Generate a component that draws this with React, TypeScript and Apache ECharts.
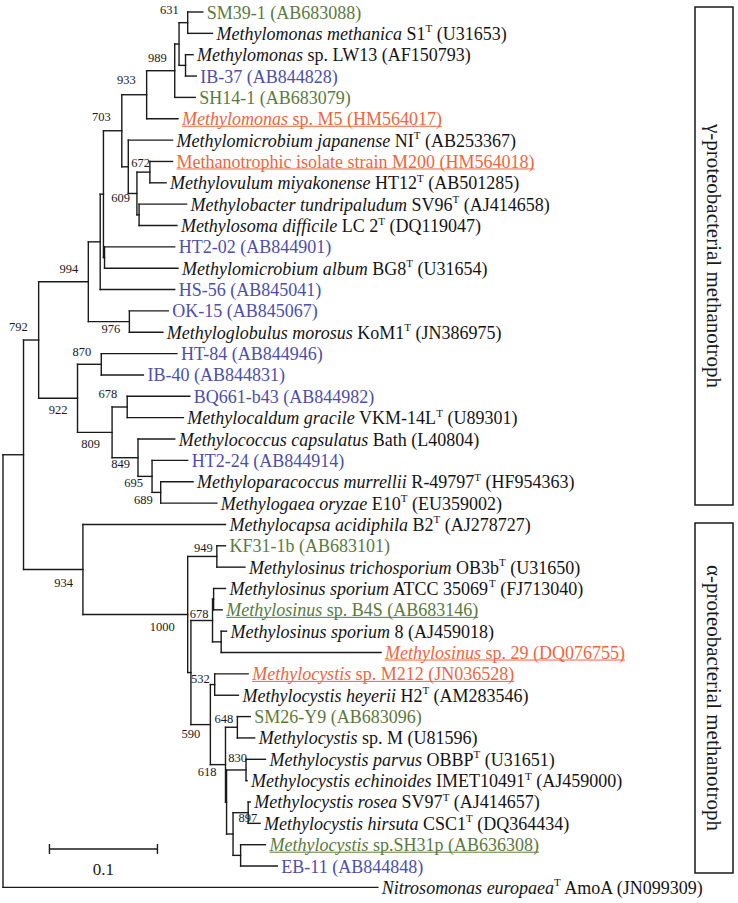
import React, { useEffect, useRef } from "react";
import * as echarts from "echarts";

// ---------- DATA ----------
// Leaf labels (top to bottom). *...* = italic, ^X = superscript
const leafLabels: string[] = [
  "SM39-1 (AB683088)",
  "*Methylomonas methanica* S1^T (U31653)",
  "*Methylomonas* sp. LW13 (AF150793)",
  "IB-37 (AB844828)",
  "SH14-1 (AB683079)",
  "*Methylomonas* sp. M5 (HM564017)",
  "*Methylomicrobium japanense* NI^T (AB253367)",
  "Methanotrophic isolate strain M200 (HM564018)",
  "*Methylovulum miyakonense* HT12^T (AB501285)",
  "*Methylobacter tundripaludum* SV96^T (AJ414658)",
  "*Methylosoma difficile* LC 2^T (DQ119047)",
  "HT2-02 (AB844901)",
  "*Methylomicrobium album* BG8^T (U31654)",
  "HS-56 (AB845041)",
  "OK-15 (AB845067)",
  "*Methyloglobulus morosus* KoM1^T (JN386975)",
  "HT-84 (AB844946)",
  "IB-40 (AB844831)",
  "BQ661-b43 (AB844982)",
  "*Methylocaldum gracile* VKM-14L^T (U89301)",
  "*Methylococcus capsulatus* Bath (L40804)",
  "HT2-24 (AB844914)",
  "*Methyloparacoccus murrellii* R-49797^T (HF954363)",
  "*Methylogaea oryzae* E10^T (EU359002)",
  "*Methylocapsa acidiphila* B2^T (AJ278727)",
  "KF31-1b (AB683101)",
  "*Methylosinus trichosporium* OB3b^T (U31650)",
  "*Methylosinus sporium* ATCC 35069^T (FJ713040)",
  "*Methylosinus* sp. B4S (AB683146)",
  "*Methylosinus sporium* 8 (AJ459018)",
  "*Methylosinus* sp. 29 (DQ076755)",
  "*Methylocystis* sp. M212 (JN036528)",
  "*Methylocystis heyerii* H2^T (AM283546)",
  "SM26-Y9 (AB683096)",
  "*Methylocystis* sp. M (U81596)",
  "*Methylocystis parvus* OBBP^T (U31651)",
  "*Methylocystis echinoides* IMET10491^T (AJ459000)",
  "*Methylocystis rosea* SV97^T (AJ414657)",
  "*Methylocystis hirsuta* CSC1^T (DQ364434)",
  "*Methylocystis* sp.SH31p (AB636308)",
  "EB-11 (AB844848)",
  "*Nitrosomonas europaea*^T AmoA (JN099309)",
];

// Source group of each leaf: ref = reference strain, soil = soil isolates, clone = clones, isolate = isolates
const leafGroup: string[] = [
  "soil", "ref", "ref", "clone", "soil", "isolate", "ref", "isolate", "ref", "ref",
  "ref", "clone", "ref", "clone", "clone", "ref", "clone", "clone", "clone", "ref",
  "ref", "clone", "ref", "ref", "ref", "soil", "ref", "ref", "soil", "ref",
  "isolate", "isolate", "ref", "soil", "ref", "ref", "ref", "ref", "ref", "soil",
  "clone", "ref",
];

// Highlighted (underlined) leaves
const leafHighlighted: number[] = [5, 7, 28, 30, 31, 39];

// Distance from root to each tip (substitutions per site)
const leafDist: number[] = [
  0.185, 0.194, 0.176, 0.179, 0.178, 0.162, 0.157, 0.157, 0.151, 0.170,
  0.161, 0.159, 0.162, 0.159, 0.153, 0.148, 0.161, 0.130, 0.173, 0.167,
  0.159, 0.171, 0.176, 0.198, 0.206, 0.206, 0.224, 0.206, 0.203, 0.207,
  0.350, 0.227, 0.218, 0.229, 0.233, 0.243, 0.226, 0.229, 0.238, 0.243,
  0.254, 0.347,
];

// Internal nodes (children listed before parents)
const nodeIds: string[] = [
  "a", "b", "ab", "n989", "n933", "n672", "td", "n609", "j", "n703",
  "ha", "p2", "p1", "n976", "n994", "n870", "n678g", "n689", "n695", "n849",
  "n809", "n922", "n792", "n949", "as", "s8", "n678a", "n532", "n648", "n830",
  "n897", "se", "r", "u", "n618", "n590", "q", "n1000", "n934", "gam",
  "root",
];
const nodeDist: number[] = [
  0.171, 0.169, 0.163, 0.159, 0.133, 0.136, 0.126, 0.124, 0.116, 0.110,
  0.094, 0.093, 0.090, 0.117, 0.079, 0.091, 0.115, 0.146, 0.138, 0.125,
  0.101, 0.069, 0.033, 0.198, 0.195, 0.202, 0.194, 0.196, 0.217, 0.225,
  0.227, 0.220, 0.213, 0.207, 0.206, 0.192, 0.174, 0.171, 0.074, 0.019,
  0.000,
];
const nodeChildren: string[][] = [
  ["L0", "L1"], ["L2", "L3"], ["a", "b"], ["ab", "L4"], ["n989", "L5"],
  ["L7", "L8"], ["L9", "L10"], ["n672", "td"], ["L6", "n609"], ["n933", "j"],
  ["L11", "L12"], ["n703", "ha"], ["p2", "L13"], ["L14", "L15"], ["p1", "n976"],
  ["L16", "L17"], ["L18", "L19"], ["L22", "L23"], ["L21", "n689"], ["L20", "n695"],
  ["n678g", "n849"], ["n870", "n809"], ["n994", "n922"], ["L25", "L26"], ["L27", "L28"],
  ["L29", "L30"], ["as", "s8"], ["L31", "L32"], ["L33", "L34"], ["L35", "L36"],
  ["L37", "L38"], ["L39", "L40"], ["n897", "se"], ["n830", "r"], ["n648", "u"],
  ["n532", "n618"], ["n678a", "n590"], ["n949", "q"], ["L24", "n1000"], ["n792", "n934"],
  ["gam", "L41"],
];
// Bootstrap support (of 1000 replicates)
const nodeSupport: (number | null)[] = [
  631, null, null, 989, 933, 672, null, 609, null, 703,
  null, null, null, 976, 994, 870, 678, 689, 695, 849,
  809, 922, 792, 949, null, null, 678, 532, 648, 830,
  897, null, null, null, 618, 590, null, 1000, 934, null,
  null,
];

const scaleBarStart = 0.043;
const scaleBarLength = 0.1;
const scaleBarRow = 39.2;
const scaleBarLabel = "0.1";

const cladeLabels = ["γ-proteobacterial methanotroph", "α-proteobacterial methanotroph"];

// ---------- LAYOUT / STYLE ----------
const W = 738;
const H = 903;
const FONT = '"Liberation Serif", "Times New Roman", serif';
const INK = "#1a1a1a";
const groupColor: Record<string, string> = {
  ref: "#141414",
  soil: "#5a7a3c",
  clone: "#4b4fa8",
  isolate: "#ec6640",
};
// label placement relative to node: [dx to right edge, dy from node centre] in px
const supportOffset: Record<string, [number, number]> = {
  a: [-9, -13], n989: [-8, -13], n933: [-11, -15], n703: [-11, -14], n672: [0, -9],
  n609: [-7, 5], n994: [-10, -13], n976: [-9, 7], n792: [-11, -13], n870: [-10, -12],
  n922: [-10, 12], n678g: [-10, -13], n809: [-12, 12], n849: [-8, 6], n695: [-9, 7],
  n689: [-8, 8], n934: [-10, 14], n949: [-4, -8], n1000: [-13, 12], n678a: [-4, -7],
  n532: [-5, -6], n590: [-10, 9], n648: [-4, -8], n618: [-9, 7], n830: [1, -12],
  n897: [9, 5],
};

// ---------- TREE GEOMETRY (from data) ----------
type P = { x: number; y: number };
const pos: Record<string, P> = {};
leafDist.forEach((d, i) => {
  pos["L" + i] = { x: d, y: i };
});
nodeIds.forEach((id, k) => {
  const ys = nodeChildren[k].map((c) => pos[c].y);
  pos[id] = { x: nodeDist[k], y: (Math.min(...ys) + Math.max(...ys)) / 2 };
});
const supportedIds = nodeIds.filter((_, k) => nodeSupport[k] !== null);

type Seg = { t: string; k: "i" | "n" | "s" };
function parseLabel(s: string): Seg[] {
  const segs: Seg[] = [];
  let italic = false;
  let cur = "";
  const flush = () => {
    if (cur) segs.push({ t: cur, k: italic ? "i" : "n" });
    cur = "";
  };
  for (let i = 0; i < s.length; i++) {
    const ch = s[i];
    if (ch === "*") {
      flush();
      italic = !italic;
    } else if (ch === "^") {
      flush();
      segs.push({ t: s[i + 1], k: "s" });
      i++;
    } else cur += ch;
  }
  flush();
  return segs;
}

const LEAF_SIZE = 18;
const SUP_SIZE = 11;
let measureCtx: CanvasRenderingContext2D | null = null;
function measure(seg: Seg): number {
  if (!measureCtx) measureCtx = document.createElement("canvas").getContext("2d");
  if (!measureCtx) return seg.t.length * 8;
  measureCtx.font =
    seg.k === "i" ? `italic ${LEAF_SIZE}px ${FONT}` : seg.k === "s" ? `${SUP_SIZE}px ${FONT}` : `${LEAF_SIZE}px ${FONT}`;
  return measureCtx.measureText(seg.t).width;
}

function plainText(text: string, x: number, y: number, size: number, align: string, rotation = 0): any {
  return {
    type: "text",
    x,
    y,
    rotation,
    style: {
      text,
      fill: INK,
      fontFamily: FONT,
      fontSize: size,
      align,
      textAlign: align,
      verticalAlign: "middle",
      textVerticalAlign: "middle",
    },
  };
}

export default function App() {
  const ref = useRef<HTMLDivElement>(null);
  useEffect(() => {
    document.body.style.margin = "0";
    if (!ref.current) return;
    const chart = echarts.init(ref.current, null, { renderer: "svg" });
    const lineStyle = { stroke: INK, lineWidth: 1.4, lineCap: "square" as const };

    const option: any = {
      animation: false,
      backgroundColor: "#ffffff",
      grid: { left: 3, right: 1, top: 12, bottom: 15.6 },
      xAxis: { type: "value", min: 0, max: 0.6796, show: false },
      yAxis: { type: "value", min: 0, max: 41, inverse: true, show: false },
      series: [
        {
          type: "custom",
          name: "branches",
          data: nodeIds.map((id) => [pos[id].x, pos[id].y]),
          renderItem: (params: any, api: any) => {
            const k = params.dataIndex;
            const nx = api.coord([nodeDist[k], 0])[0];
            const kids = nodeChildren[k].map((c) => api.coord([pos[c].x, pos[c].y]));
            const ys = kids.map((c: number[]) => c[1]);
            const children: any[] = [
              {
                type: "line",
                shape: { x1: nx, y1: Math.min(...ys), x2: nx, y2: Math.max(...ys) },
                style: lineStyle,
              },
            ];
            kids.forEach((c: number[]) => {
              children.push({ type: "line", shape: { x1: nx, y1: c[1], x2: c[0], y2: c[1] }, style: lineStyle });
            });
            return { type: "group", children };
          },
        },
        {
          type: "custom",
          name: "support",
          data: supportedIds.map((id) => [pos[id].x, pos[id].y]),
          renderItem: (params: any, api: any) => {
            const id = supportedIds[params.dataIndex];
            const k = nodeIds.indexOf(id);
            const [px, py] = api.coord([pos[id].x, pos[id].y]);
            const off = supportOffset[id] || [-8, -10];
            return plainText(String(nodeSupport[k]), px + off[0], py + off[1], 12.5, "right");
          },
        },
        {
          type: "custom",
          name: "leaves",
          data: leafDist.map((d, i) => [d, i]),
          renderItem: (params: any, api: any) => {
            const i = params.dataIndex;
            const [px, py] = api.coord([leafDist[i], i]);
            const segs = parseLabel(leafLabels[i]);
            const color = groupColor[leafGroup[i]];
            const text = segs.map((s) => `{${s.k}|${s.t}}`).join("");
            const x0 = px + 4;
            const children: any[] = [
              {
                type: "text",
                x: x0,
                y: py + 0.5,
                style: {
                  text,
                  fill: color,
                  fontFamily: FONT,
                  fontSize: LEAF_SIZE,
                  align: "left",
                  textAlign: "left",
                  verticalAlign: "middle",
                  textVerticalAlign: "middle",
                  rich: {
                    i: { fontStyle: "italic", fontSize: LEAF_SIZE, fontFamily: FONT, fill: color, lineHeight: 22 },
                    n: { fontStyle: "normal", fontSize: LEAF_SIZE, fontFamily: FONT, fill: color, lineHeight: 22 },
                    s: { fontSize: SUP_SIZE, fontFamily: FONT, fill: color, verticalAlign: "top", lineHeight: 13 },
                  },
                },
              },
            ];
            if (leafHighlighted.indexOf(i) >= 0) {
              const w = segs.reduce((a, s) => a + measure(s), 0);
              children.push({
                type: "line",
                shape: { x1: x0, y1: py + 7.5, x2: x0 + w, y2: py + 7.5 },
                style: { stroke: color, lineWidth: 1 },
              });
            }
            return { type: "group", children };
          },
        },
        {
          type: "custom",
          name: "scale",
          data: [[scaleBarStart, scaleBarRow]],
          renderItem: (params: any, api: any) => {
            const [x1, y] = api.coord([scaleBarStart, scaleBarRow]);
            const [x2] = api.coord([scaleBarStart + scaleBarLength, scaleBarRow]);
            const st = { stroke: INK, lineWidth: 1.4 };
            return {
              type: "group",
              children: [
                { type: "line", shape: { x1, y1: y, x2, y2: y }, style: st },
                { type: "line", shape: { x1, y1: y - 5, x2: x1, y2: y + 5 }, style: st },
                { type: "line", shape: { x1: x2, y1: y - 5, x2, y2: y + 5 }, style: st },
                plainText(scaleBarLabel, (x1 + x2) / 2, y + 21, 17, "center"),
              ],
            };
          },
        },
      ],
      graphic: [
        { type: "rect", shape: { x: 695, y: 7, width: 38, height: 498 }, style: { fill: "none", stroke: INK, lineWidth: 1.5 } },
        { type: "rect", shape: { x: 695, y: 523, width: 38, height: 350 }, style: { fill: "none", stroke: INK, lineWidth: 1.5 } },
        plainText(cladeLabels[0], 714, 256, 21, "center", -Math.PI / 2),
        plainText(cladeLabels[1], 714, 698, 21, "center", -Math.PI / 2),
      ],
    };
    chart.setOption(option);
    return () => chart.dispose();
  }, []);
  return (
    <div
      ref={ref}
      style={{ position: "fixed", left: 0, top: 0, width: W, height: H, background: "#fff" }}
    />
  );
}
